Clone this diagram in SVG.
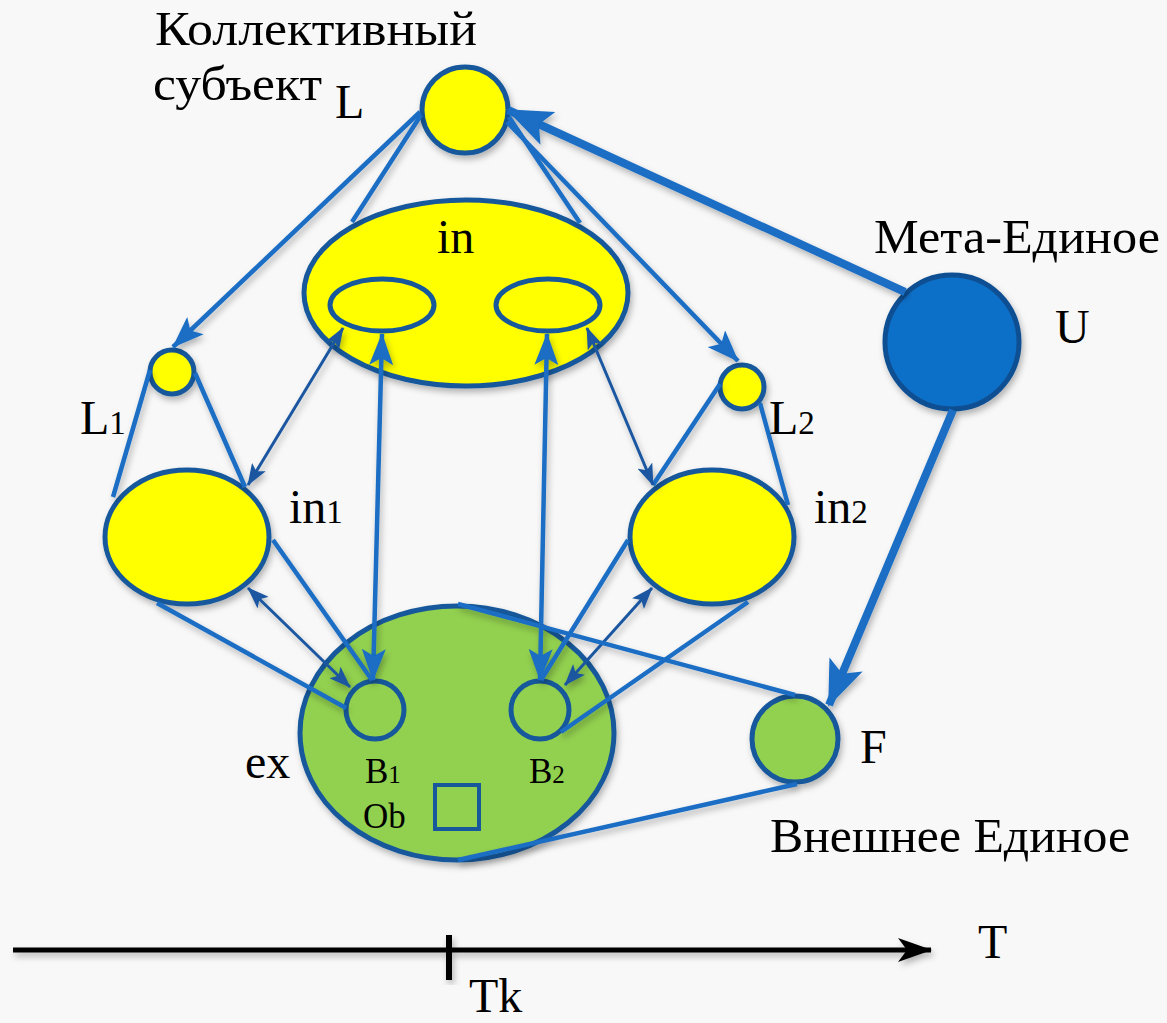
<svg xmlns="http://www.w3.org/2000/svg" width="1167" height="1023" viewBox="0 0 1167 1023">
<defs>
<style>
.t{font-family:"Liberation Serif","DejaVu Serif",serif;font-size:48px;fill:#000}
.s{font-size:35px}
.d{font-size:33px}
.ny{fill:#ffff00;stroke:#17599b;stroke-width:5}
.ng{fill:#92d050;stroke:#17599b;stroke-width:5}
.c{stroke:#1a6dc4;stroke-width:4.5;fill:none}
.th{stroke:#1a57a0;stroke-width:3;fill:none}
.k{stroke:#1a6dc4;stroke-width:8;fill:none}
</style>
<filter id="sh" x="-10%" y="-10%" width="120%" height="120%">
<feDropShadow dx="2" dy="4" stdDeviation="3" flood-color="#000" flood-opacity="0.28"/>
</filter>
<marker id="am" viewBox="0 0 32 24" refX="31" refY="12" markerWidth="32" markerHeight="24" markerUnits="userSpaceOnUse" orient="auto-start-reverse">
<path d="M0,0 L32,12 L0,24 L7,12 z" fill="#1a6dc4"/>
</marker>
<marker id="at" viewBox="0 0 22 16" refX="21" refY="8" markerWidth="22" markerHeight="16" markerUnits="userSpaceOnUse" orient="auto-start-reverse">
<path d="M0,0 L22,8 L0,16 L5,8 z" fill="#1a57a0"/>
</marker>
<marker id="ak" viewBox="0 0 46 36" refX="44" refY="18" markerWidth="46" markerHeight="36" markerUnits="userSpaceOnUse" orient="auto">
<path d="M0,0 L46,18 L0,36 L10,18 z" fill="#1a6dc4"/>
</marker>
<marker id="ab" viewBox="0 0 34 24" refX="33" refY="12" markerWidth="34" markerHeight="24" markerUnits="userSpaceOnUse" orient="auto">
<path d="M0,0 L34,12 L0,24 L9,12 z" fill="#000"/>
</marker>
</defs>
<rect width="1167" height="1023" fill="#f8f8f8"/>

<g id="nodes" filter="url(#sh)">
<g id="node-L"><circle class="ny" cx="465" cy="110" r="43"/></g>
<g id="node-in">
<ellipse class="ny" cx="466" cy="293" rx="162" ry="93"/>
<ellipse class="ny" cx="382" cy="305" rx="52" ry="26" stroke-width="4"/>
<ellipse class="ny" cx="548" cy="305" rx="52" ry="26" stroke-width="4"/>
</g>
<g id="node-L1"><circle class="ny" cx="172" cy="372" r="22"/></g>
<g id="node-L2"><circle class="ny" cx="742" cy="387" r="22"/></g>
<g id="node-in1"><ellipse class="ny" cx="187" cy="537" rx="82" ry="67"/></g>
<g id="node-in2"><ellipse class="ny" cx="712" cy="537" rx="82" ry="67"/></g>
<g id="node-U"><circle cx="952" cy="342" r="67" fill="#1170c8" stroke="#0f4f92" stroke-width="5"/></g>
<g id="node-ex">
<ellipse class="ng" cx="457" cy="733" rx="157" ry="127"/>
</g>
<g id="node-B1"><circle class="ng" cx="375" cy="710" r="29"/></g>
<g id="node-B2"><circle class="ng" cx="540" cy="710" r="29"/></g>
<g id="node-Ob"><rect x="435" y="785" width="44" height="44" fill="none" stroke="#17599b" stroke-width="4"/></g>
<g id="node-F"><circle class="ng" cx="795" cy="739" r="43"/></g>
</g>

<g id="connectors" filter="url(#sh)">
<line class="c" x1="420" y1="112" x2="173" y2="347" marker-end="url(#am)"/>
<line class="c" x1="421" y1="115" x2="352" y2="222"/>
<line class="c" x1="509" y1="117" x2="580" y2="223"/>
<line class="c" x1="507" y1="122" x2="738" y2="361" marker-end="url(#am)"/>
<line class="k" x1="905" y1="292" x2="508" y2="110" marker-end="url(#ak)"/>
<line class="k" x1="953" y1="410" x2="829" y2="705" marker-end="url(#ak)"/>
<line class="c" x1="150" y1="370" x2="113" y2="497"/>
<line class="c" x1="195" y1="373" x2="245" y2="487"/>
<line class="c" x1="720" y1="384" x2="653" y2="485"/>
<line class="c" x1="760" y1="403" x2="788" y2="505"/>
<line class="th" x1="343" y1="328" x2="248" y2="485" marker-start="url(#at)" marker-end="url(#at)"/>
<line class="th" x1="587" y1="328" x2="653" y2="485" marker-start="url(#at)" marker-end="url(#at)"/>
<line class="c" x1="382" y1="334" x2="373" y2="680" marker-start="url(#am)" marker-end="url(#am)"/>
<line class="c" x1="547" y1="334" x2="540" y2="680" marker-start="url(#am)" marker-end="url(#am)"/>
<line class="c" x1="273" y1="540" x2="372" y2="680"/>
<line class="c" x1="157" y1="603" x2="346" y2="708"/>
<line class="th" x1="248" y1="588" x2="350" y2="687" marker-start="url(#at)" marker-end="url(#at)"/>
<line class="c" x1="628" y1="540" x2="541" y2="680"/>
<line class="c" x1="748" y1="602" x2="561" y2="732"/>
<line class="th" x1="652" y1="588" x2="565" y2="685" marker-start="url(#at)" marker-end="url(#at)"/>
<line class="c" x1="458" y1="604" x2="795" y2="695"/>
<line class="c" x1="458" y1="860" x2="797" y2="784"/>
</g>

<g id="timeline" filter="url(#sh)">
<line x1="13" y1="950" x2="931" y2="950" stroke="#000" stroke-width="5" marker-end="url(#ab)"/>
<line x1="449" y1="935" x2="449" y2="980" stroke="#000" stroke-width="6"/>
</g>

<g id="labels">
<text class="t" x="155" y="45" textLength="322" lengthAdjust="spacingAndGlyphs">Коллективный</text>
<text class="t" x="153" y="100" textLength="169" lengthAdjust="spacingAndGlyphs">субъект</text>
<text class="t" x="335" y="118">L</text>
<text class="t" x="437" y="253">in</text>
<text class="t" x="874" y="253" textLength="286" lengthAdjust="spacingAndGlyphs">Мета-Единое</text>
<text class="t" x="1055" y="343">U</text>
<text class="t" x="80" y="434">L<tspan class="d">1</tspan></text>
<text class="t" x="769" y="434">L<tspan class="d">2</tspan></text>
<text class="t" x="289" y="523">in<tspan class="d">1</tspan></text>
<text class="t" x="814" y="523">in<tspan class="d">2</tspan></text>
<text class="t" x="245" y="778">ex</text>
<text class="t s" x="365" y="783">B<tspan font-size="25">1</tspan></text>
<text class="t s" x="529" y="783">B<tspan font-size="25">2</tspan></text>
<text class="t s" x="363" y="828">Ob</text>
<text class="t" x="860" y="763">F</text>
<text class="t" x="770" y="852" textLength="360" lengthAdjust="spacingAndGlyphs">Внешнее Единое</text>
<text class="t" x="978" y="958">T</text>
<text class="t" x="469" y="1012">Tk</text>
</g>
</svg>
